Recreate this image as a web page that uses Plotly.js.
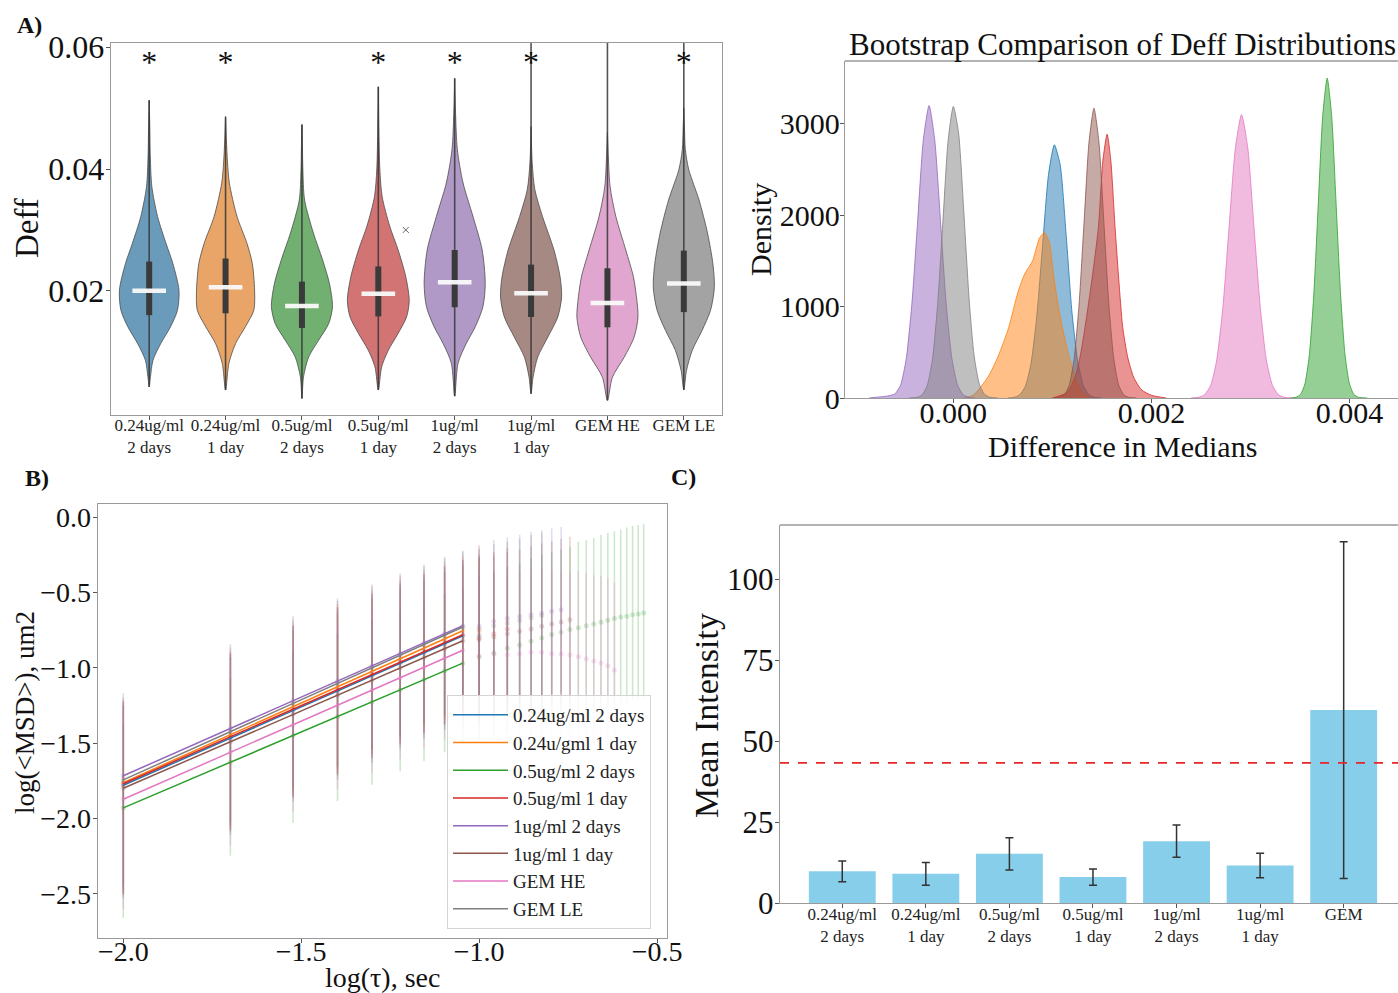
<!DOCTYPE html>
<html><head><meta charset="utf-8">
<script src="https://cdn.plot.ly/plotly-3.0.1.min.js"></script>
<style>html,body{margin:0;padding:0;background:#fff;overflow:hidden}</style>
</head><body><div id="chart" style="width:1398px;height:993px"></div>
<script>
// ---------------- DATA ----------------
// Panel A : violins of Deff
const groupsA = ['0.24ug/ml<br>2 days','0.24ug/ml<br>1 day','0.5ug/ml<br>2 days','0.5ug/ml<br>1 day','1ug/ml<br>2 days','1ug/ml<br>1 day','GEM HE','GEM LE'];
const seriesColors = ['#1f77b4','#ff7f0e','#2ca02c','#d62728','#9467bd','#8c564b','#e377c2','#7f7f7f'];
const violinColors = ['#3274a1','#e1812c','#3a923a','#c03d3e','#9372b2','#845b53','#d684bd','#7f7f7f'];
const violinDeff = [
  [0.0042,0.0059,0.0086,0.0113,0.0141,0.0168,0.0201,0.0245,0.0278,0.0322,0.0371,0.0420,0.0470,0.0513],
  [0.0037,0.0081,0.0113,0.0141,0.0168,0.0201,0.0245,0.0278,0.0322,0.0377,0.0410,0.0450,0.0486],
  [0.0023,0.0058,0.0091,0.0119,0.0146,0.0174,0.0212,0.0251,0.0295,0.0349,0.0400,0.0440,0.0473],
  [0.0037,0.0075,0.0102,0.0130,0.0157,0.0184,0.0223,0.0267,0.0306,0.0355,0.0400,0.0460,0.0535],
  [0.0027,0.0081,0.0113,0.0141,0.0174,0.0212,0.0267,0.0322,0.0377,0.0432,0.0490,0.0549],
  [0.0031,0.0058,0.0091,0.0124,0.0157,0.0190,0.0223,0.0267,0.0322,0.0366,0.0410,0.0470],
  [0.0020,0.0058,0.0091,0.0124,0.0157,0.0190,0.0223,0.0267,0.0322,0.0371,0.0420,0.0460],
  [0.0037,0.0069,0.0102,0.0135,0.0168,0.0206,0.0245,0.0295,0.0349,0.0399,0.0432,0.0470,0.0500]
];
const violinDensity = [
  [0,0.017,0.05,0.15,0.28,0.37,0.39,0.31,0.22,0.11,0.035,0.015,0.008,0],
  [0,0.044,0.13,0.26,0.37,0.38,0.35,0.28,0.15,0.05,0.026,0.01,0],
  [0,0.02,0.087,0.22,0.35,0.40,0.36,0.27,0.15,0.035,0.012,0.006,0],
  [0,0.044,0.13,0.26,0.37,0.405,0.36,0.26,0.15,0.05,0.02,0.008,0],
  [0,0.044,0.15,0.27,0.37,0.40,0.36,0.24,0.11,0.035,0.012,0],
  [0,0.026,0.087,0.22,0.35,0.40,0.38,0.30,0.15,0.05,0.015,0],
  [0,0.065,0.22,0.35,0.40,0.38,0.34,0.24,0.11,0.035,0.012,0],
  [0,0.035,0.11,0.24,0.35,0.40,0.38,0.31,0.20,0.065,0.02,0.008,0]
];
const deffQ1     = [0.0160,0.0163,0.0139,0.0158,0.0173,0.0157,0.0140,0.0165];
const deffMedian = [0.0200,0.0206,0.0175,0.0195,0.0214,0.0196,0.0180,0.0212];
const deffQ3     = [0.0248,0.0253,0.0215,0.0240,0.0267,0.0243,0.0237,0.0266];
const deffMin    = [0.0042,0.0037,0.0023,0.0037,0.0027,0.0031,0.0020,0.0037];
const deffMax    = [0.0513,0.0486,0.0473,0.0535,0.0549,0.0610,0.0610,0.0610];
const significant = [true,true,false,true,true,true,false,true];
const starLevel = 0.0571;
const strayX = [3.36], strayY = [0.0300];

// Panel top-right : bootstrap KDE of difference in medians
const kdeX = [
  [0.00055,0.000607,0.000666,0.000725,0.000784,0.000843,0.000902,0.000961,0.00102,0.001079,0.001138,0.001197,0.001256,0.001315,0.001374,0.001433,0.0015],
  [0.00010,0.00020,0.00035,0.00045,0.00056,0.00065,0.00072,0.00080,0.00087,0.00092,0.00097,0.00101,0.00106,0.00110,0.00117,0.00123,0.00130,0.00138],
  [0.0034,0.00346,0.003505,0.00355,0.003595,0.00364,0.003685,0.00373,0.003775,0.00382,0.003865,0.00391,0.003955,0.004,0.004045,0.00409,0.00418],
  [0.00100,0.00115,0.00123,0.00128,0.00133,0.00140,0.001465,0.00151,0.001553,0.00159,0.001633,0.00167,0.00171,0.00176,0.00182,0.00190,0.00200,0.00215],
  [-0.00085,-0.00072,-0.000648,-0.00059,-0.000533,-0.000475,-0.000418,-0.00036,-0.000303,-0.000245,-0.000188,-0.00013,-0.000073,-0.000015,0.000043,0.0001,0.000158,0.00022],
  [0.00100,0.00107,0.00112,0.00117,0.00122,0.00127,0.00132,0.00137,0.00142,0.00147,0.00152,0.00157,0.00162,0.00167,0.00172,0.00177,0.00185],
  [0.0024,0.002473,0.002535,0.002598,0.00266,0.002723,0.002785,0.002848,0.00291,0.002973,0.003035,0.003098,0.00316,0.003223,0.003285,0.003348,0.00342],
  [-0.00045,-0.000368,-0.000315,-0.000263,-0.00021,-0.000158,-0.000105,-0.000053,0,0.000053,0.000105,0.000158,0.00021,0.000263,0.000315,0.000368,0.00045]
];
const kdeY = [
  [0,6,31,122,375,900,1680,2445,2770,2550,1800,950,400,130,31,6,0],
  [0,30,230,450,775,1150,1357,1500,1750,1810,1700,1357,1000,775,450,229,70,0],
  [0,8,39,154,474,1136,2123,3089,3500,3089,2123,1136,474,154,39,8,0],
  [0,60,229,450,775,1300,1867,2600,2886,2600,1867,1300,775,450,229,90,30,0],
  [0,15,25,45,140,433,1040,1940,2825,3200,2825,1940,1040,433,140,36,7,0],
  [0,7,35,139,429,1029,1923,2800,3170,2800,1923,1029,429,139,35,7,0],
  [0,7,34,136,419,1007,1880,2736,3100,2736,1880,1007,419,136,34,7,0],
  [0,7,35,140,432,1036,1935,2815,3190,2900,2050,1100,460,150,40,8,0]
];

// Panel B : MSD vs lag time
const msdNames = ['0.24ug/ml 2 days','0.24u/gml 1 day','0.5ug/ml 2 days','0.5ug/ml 1 day','1ug/ml 2 days','1ug/ml 1 day','GEM HE','GEM LE'];
const lagTimes = [0.01,0.02,0.03,0.04,0.05,0.06,0.07,0.08,0.09,0.10,0.11,0.12,0.13,0.14,0.15,0.16,0.17,0.18,0.19,0.20,0.21,0.22,0.23,0.24,0.25,0.26,0.27,0.28,0.29];
const logMsd = [
  [-1.780,-1.467,-1.284,-1.154,-1.053,-0.971,-0.901,-0.841,-0.788,-0.786],
  [-1.762,-1.444,-1.258,-1.126,-1.023,-0.940,-0.869,-0.808,-0.754,-0.757],
  [-1.930,-1.627,-1.450,-1.324,-1.226,-1.147,-1.079,-1.021,-0.969,-0.928,-0.901,-0.870,-0.848,-0.824,-0.802,-0.779,-0.764,-0.746,-0.733,-0.720,-0.709,-0.698,-0.684,-0.673,-0.662,-0.657,-0.648,-0.642,-0.635],
  [-1.770,-1.458,-1.275,-1.145,-1.044,-0.962,-0.893,-0.833,-0.780,-0.802,-0.773,-0.742],
  [-1.717,-1.402,-1.218,-1.088,-0.987,-0.904,-0.834,-0.773,-0.720,-0.724,-0.691,-0.673,-0.657,-0.646,-0.635,-0.624,-0.615],
  [-1.800,-1.491,-1.310,-1.182,-1.082,-1.001,-0.932,-0.873,-0.820,-0.813,-0.795,-0.773,-0.757,-0.742,-0.724,-0.709,-0.695,-0.680],
  [-1.873,-1.561,-1.378,-1.248,-1.147,-1.065,-0.996,-0.936,-0.883,-0.920,-0.910,-0.913,-0.906,-0.897,-0.897,-0.906,-0.908,-0.915,-0.926,-0.939,-0.955,-0.968,-0.986,-1.015],
  [-1.744,-1.424,-1.236,-1.103,-0.998,-0.916,-0.845,-0.783,-0.729,-0.742,-0.720,-0.702,-0.684,-0.668,-0.653]
];
const msdErrUp   = [0.55,0.56,0.56,0.55,0.54,0.53,0.52,0.51,0.50,0.54,0.54,0.54,0.54,0.55,0.55,0.55,0.55,0.55,0.57,0.57,0.57,0.58,0.58,0.58,0.58,0.59,0.59,0.59,0.59];
const msdErrDown = [0.73,0.62,0.58,0.56,0.55,0.54,0.54,0.54,0.54,0.55,0.55,0.55,0.55,0.55,0.55,0.55,0.55,0.55,0.56,0.56,0.56,0.56,0.56,0.56,0.57,0.57,0.57,0.57,0.57];
const fitTau = [0.01,0.09];
const fitStart = [-1.780,-1.762,-1.930,-1.770,-1.717,-1.800,-1.873,-1.744];
const fitEnd   = [-0.788,-0.754,-0.969,-0.780,-0.720,-0.820,-0.883,-0.729];

// Panel C : mean intensity
const intensityGroups = ['0.24ug/ml<br>2 days','0.24ug/ml<br>1 day','0.5ug/ml<br>2 days','0.5ug/ml<br>1 day','1ug/ml<br>2 days','1ug/ml<br>1 day','GEM'];
const intensityMean = [9.8,9.0,15.2,8.0,19.1,11.6,59.6];
const intensityErr  = [3.2,3.5,5.0,2.5,5.0,3.8,52.0];
const intensityThreshold = 43.3;

// ---------------- DRAWING ----------------
const W = 1398, H = 993;
const FONT = 'Liberation Serif, Times New Roman, serif';
const fx = p => p / W, fy = p => 1 - p / H;
function rgba(hex, a){const n=parseInt(hex.slice(1),16);return `rgba(${n>>16},${(n>>8)&255},${n&255},${a})`;}

const traces = [];
// Panel A
groupsA.forEach((g, i) => {
  const L = violinDeff[i], D = violinDensity[i];
  const xs = L.map((y,k)=> i + D[k]).concat(L.slice().reverse().map((y,k)=> i - D[D.length-1-k]));
  const ys = L.concat(L.slice().reverse());
  traces.push({type:'scatter', mode:'lines', x:xs, y:ys, xaxis:'x', yaxis:'y', fill:'toself',
    fillcolor: rgba(violinColors[i],0.72), line:{color:'rgba(70,70,70,0.75)', width:1, shape:'spline', smoothing:0.8},
    showlegend:false, hoverinfo:'skip'});
  traces.push({type:'scatter', mode:'lines', x:[i,i], y:[deffMin[i], deffMax[i]], xaxis:'x', yaxis:'y',
    line:{color:'rgba(55,55,55,0.85)', width:1.6}, showlegend:false, hoverinfo:'skip'});
  traces.push({type:'scatter', mode:'lines', x:[i,i], y:[deffQ1[i], deffQ3[i]], xaxis:'x', yaxis:'y',
    line:{color:'#3a3a3a', width:6}, showlegend:false, hoverinfo:'skip'});
  traces.push({type:'scatter', mode:'lines', x:[i-0.22,i+0.22], y:[deffMedian[i], deffMedian[i]], xaxis:'x', yaxis:'y',
    line:{color:'rgba(250,250,250,0.95)', width:4.5}, showlegend:false, hoverinfo:'skip'});
});
const starIdx = significant.map((s,i)=> s ? i : null).filter(v=>v!==null);
traces.push({type:'scatter', mode:'text', x:starIdx, y:starIdx.map(()=>starLevel), text:starIdx.map(()=>'*'),
  textposition:'middle center', textfont:{family:FONT, size:32, color:'#111'}, xaxis:'x', yaxis:'y', showlegend:false, hoverinfo:'skip'});
traces.push({type:'scatter', mode:'markers', x:strayX, y:strayY, marker:{symbol:'x-thin', size:6, line:{width:1, color:'#666'}},
  xaxis:'x', yaxis:'y', showlegend:false, hoverinfo:'skip'});

// Panel top-right
kdeX.forEach((xs, i) => {
  traces.push({type:'scatter', mode:'lines', x:xs, y:kdeY[i], xaxis:'x2', yaxis:'y2', fill:'tozeroy',
    fillcolor: rgba(seriesColors[i],0.5), line:{color:rgba(seriesColors[i],0.8), width:1, shape:'spline', smoothing:0.6},
    showlegend:false, hoverinfo:'skip'});
});

// Panel B points with error bars
logMsd.forEach((ys, i) => {
  const n = ys.length;
  traces.push({type:'scatter', mode:'markers', x:lagTimes.slice(0,n).map(Math.log10), y:ys, xaxis:'x3', yaxis:'y3',
    marker:{color:rgba(seriesColors[i],0.22), size:5},
    error_y:{type:'data', symmetric:false, array:msdErrUp.slice(0,n), arrayminus:msdErrDown.slice(0,n),
      color:rgba(seriesColors[i],0.24), thickness:1.6, width:0},
    showlegend:false, hoverinfo:'skip'});
});
// Panel B fit lines (legend)
msdNames.forEach((nm, i) => {
  traces.push({type:'scatter', mode:'lines', x:fitTau.map(Math.log10), y:[fitStart[i], fitEnd[i]], xaxis:'x3', yaxis:'y3',
    line:{color:seriesColors[i], width:1.5}, name:nm, showlegend:true, hoverinfo:'skip'});
});

// Panel C
traces.push({type:'bar', x:intensityGroups.map((g,i)=>i), y:intensityMean, width:0.8, xaxis:'x4', yaxis:'y4',
  marker:{color:'#87ceeb', line:{width:0}},
  error_y:{type:'data', array:intensityErr, color:'#333', thickness:1.5, width:4},
  showlegend:false, hoverinfo:'skip'});

const axBase = {showgrid:false, zeroline:false, showline:true, linecolor:'#9a9a9a', linewidth:1.3,
  ticks:'outside', ticklen:4, tickcolor:'#555', tickfont:{family:FONT, color:'#111'}};

const layout = {
  width:W, height:H, autosize:false, margin:{l:0,r:0,t:0,b:0},
  paper_bgcolor:'#fff', plot_bgcolor:'#fff', font:{family:FONT, color:'#111'},
  xaxis: Object.assign({}, axBase, {domain:[fx(111), fx(722)], range:[-0.5,7.5], anchor:'y', mirror:true, ticklabelstandoff:-10,
    tickvals:groupsA.map((g,i)=>i), ticktext:groupsA, tickfont:{family:FONT, size:17, color:'#222'}}),
  yaxis: Object.assign({}, axBase, {domain:[fy(415), fy(43)], range:[-0.0004,0.0607], anchor:'x', mirror:true, ticklabelstandoff:-5,
    tickvals:[0.02,0.04,0.06], tickformat:'.2f', tickfont:{family:FONT, size:32, color:'#111'}}),
  xaxis2: Object.assign({}, axBase, {domain:[fx(845), 1], range:[-0.001094,0.00449], anchor:'y2', ticklabelstandoff:-16,
    tickvals:[0,0.002,0.004], tickformat:'.3f', tickfont:{family:FONT, size:30, color:'#111'}}),
  yaxis2: Object.assign({}, axBase, {domain:[fy(398), fy(61)], range:[0,3687], anchor:'x2', ticklabelstandoff:-6,
    tickvals:[0,1000,2000,3000], tickformat:'d', tickfont:{family:FONT, size:30, color:'#111'}}),
  xaxis3: Object.assign({}, axBase, {domain:[fx(98), fx(667)], range:[-2.071,-0.472], anchor:'y3', mirror:true, ticklabelstandoff:-16,
    tickvals:[-2,-1.5,-1,-0.5], tickformat:'.1f', tickfont:{family:FONT, size:28, color:'#111'}}),
  yaxis3: Object.assign({}, axBase, {domain:[fy(938), fy(504)], range:[-2.794,0.088], anchor:'x3', mirror:true, ticklabelstandoff:-4,
    tickvals:[0,-0.5,-1,-1.5,-2,-2.5], tickformat:'.1f', tickfont:{family:FONT, size:28, color:'#111'}}),
  xaxis4: Object.assign({}, axBase, {domain:[fx(780), 1], range:[-0.745,6.65], anchor:'y4', ticklabelstandoff:-9,
    tickvals:intensityGroups.map((g,i)=>i), ticktext:intensityGroups, tickfont:{family:FONT, size:17, color:'#222'}}),
  yaxis4: Object.assign({}, axBase, {domain:[fy(903), fy(525)], range:[0,116.8], anchor:'x4', ticklabelstandoff:-5,
    tickvals:[0,25,50,75,100], tickfont:{family:FONT, size:31, color:'#111'}}),
  legend:{x:fx(447), y:fy(695), xanchor:'left', yanchor:'top', bgcolor:'rgba(255,255,255,0.85)', itemwidth:55,
    bordercolor:'#d4d4d4', borderwidth:1, font:{family:FONT, size:19, color:'#222'}, tracegroupgap:0},
  shapes:[
    {type:'line', xref:'x2 domain', yref:'y2 domain', x0:0, x1:1, y0:1, y1:1, line:{color:'#9a9a9a', width:1.3}},
    {type:'line', xref:'x4 domain', yref:'y4 domain', x0:0, x1:1, y0:1, y1:1, line:{color:'#9a9a9a', width:1.3}},
    {type:'line', xref:'x4 domain', yref:'y4', x0:0, x1:1, y0:intensityThreshold, y1:intensityThreshold, line:{color:'#e8262a', width:1.6, dash:'dash'}}
  ],
  annotations:[
    ['<b>A)</b>', 29, 25, 0, 24],
    ['Deff', 27, 228, -90, 33],
    ['Bootstrap Comparison of Deff Distributions', 1122, 45, 0, 31],
    ['Density', 760, 229, -90, 30],
    ['Difference in Medians', 1122, 446, 0, 30],
    ['<b>B)</b>', 37, 478, 0, 24],
    ['log(&lt;MSD&gt;), um2', 25, 713, -90, 27],
    ['log(τ), sec', 382, 977, 0, 28],
    ['<b>C)</b>', 683, 477, 0, 24],
    ['Mean Intensity', 706, 715, -90, 34]
  ].map(a => ({text:a[0], x:fx(a[1]), y:fy(a[2]), xref:'paper', yref:'paper', xanchor:'center', yanchor:'middle',
     showarrow:false, textangle:a[3], font:{family:FONT, size:a[4], color:'#111'}}))
};
Plotly.newPlot('chart', traces, layout, {displayModeBar:false, staticPlot:true});
</script></body></html>
